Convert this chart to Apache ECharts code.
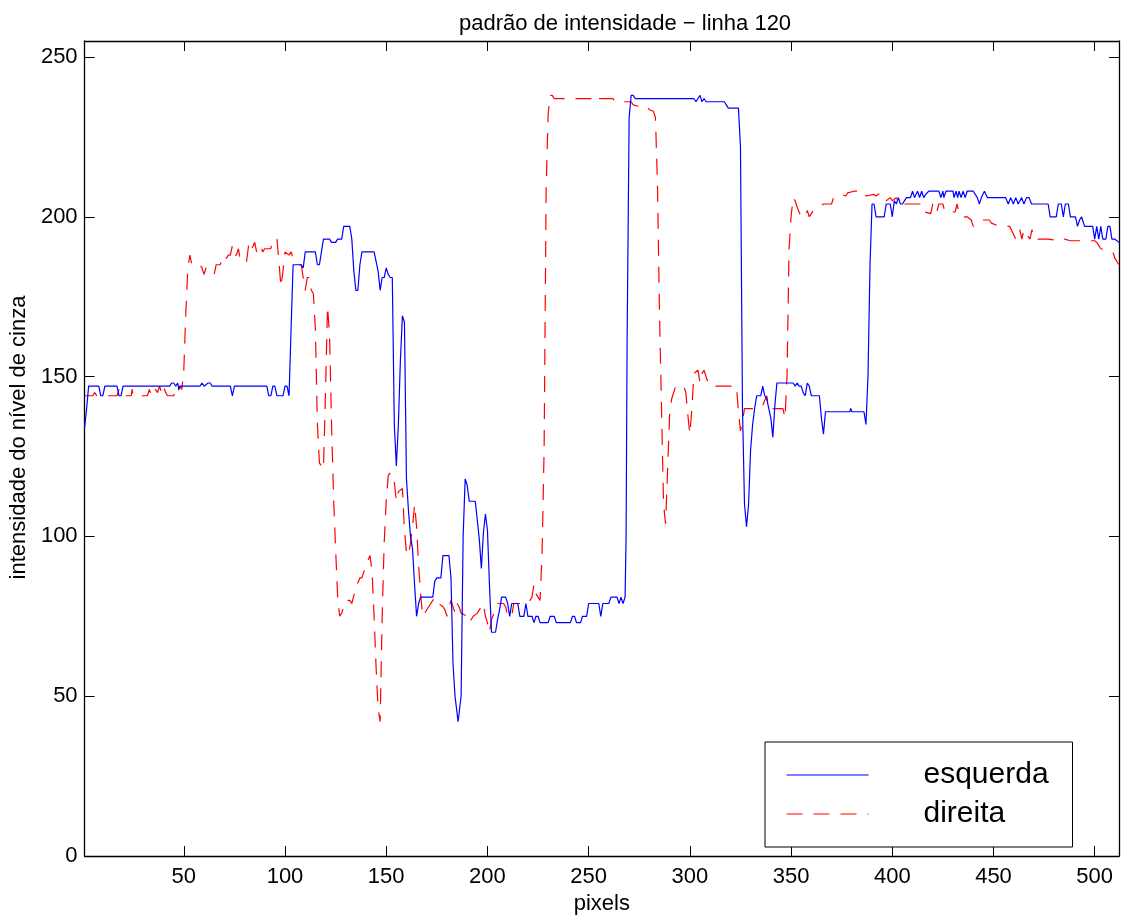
<!DOCTYPE html>
<html>
<head>
<meta charset="utf-8">
<script src="https://cdn.jsdelivr.net/npm/echarts@6/dist/echarts.min.js"></script>
<style>
html,body{margin:0;padding:0;background:#fff;}
#chart{width:1122px;height:920px;}
</style>
</head>
<body>
<div id="chart"></div>
<script>
const titleText = 'padrão de intensidade − linha 120';
const xLabel = 'pixels';
const yLabel = 'intensidade do nível de cinza';
const seriesNames = ['esquerda', 'direita'];
const xTicks = [50, 100, 150, 200, 250, 300, 350, 400, 450, 500];
const yTicks = [0, 50, 100, 150, 200, 250];

// esquerda (left image), [pixel, intensity]
const esquerda = [
[1,134],[2,140],[3,147],[8,147],[9,144],[10,144],[11,147],[17,147],[18,144],[19,144],[20,147],[43,147],[44,148],[45,148],[46,147],[47,148],[47.5,146],[48,147],
[58,147],[59,148],[60,147],[62,148],[63,148],[64,147],[73,147],[74,144],[75,147],[91,147],[92,144],[93,144],[94,147],[95,147],[96,144],[99,144],[100,147],[101,147],[102,144],
[103,165],[104,185],[108,185],[109,184],[110,189],[115,189],[116,185],[117,185],[118,189],[119,193],[122,193],[123,192],[125,192],[126,193],[128,193],[129,197],[132,197],[133,193],
[134,183],[135,177],[136,177],[137,185],[138,189],[144,189],[146,183],[147,177],[148,181],[149,181],[150,184],[151,182],[152,181],[153,181],[154,135],[155,122],[156,135],[157,155],
[158,169],[159,167],[160,118],[161,108],[162,100],[163,96],[164,85],[165,75],[166,79],[167,81],[173,81],[174,86],[175,87],[177,87],[178,94],[181,94],[182,87],[183,60],[184,50],
[185.5,42],[187,50],[188,100],[189,118],[190,116],[191,111],[194,111],[195,105],[196,99],[197,90],[198,101],[199,107],[200,102],[201,85],[202,70],[204,70],[205,74],[206,77],
[207,81],[209,81],[210,79],[211,75],[212,79],[215,79],[216,75],[218,75],[219,79],[220,75],[222,75],[223,73],[224,75],[225,75],[226,73],[230,73],[231,75],[233,75],[234,73],
[241,73],[242,75],[243,75],[244,73],[246,73],[247,75],[249,75],[250,79],[255,79],[256,75],[257,79],[260,79],[261,81],[264,81],[265,79],[266,81],[267,79],[268,81],[268.5,100],
[269,161],[270,231],[271,238],[272,238],[273,237],[302,237],[303,236],[304,237],[305,238],[306,236],[307,237],[308,236],[317,236],[318,235],[319,234],[324,234],[325,222],
[326,140],[327,110],[328,103],[329,110],[330,127],[331,135],[332,140],[333,144],[335,144],[336,147],[337,144],[338,143],[339,140],[340,137],[341,131],[342,141],[343,148],
[351,148],[352,147],[353,148],[354,147],[355,147],[356,145],[357,144],[358,148],[359,147],[360,144],[364,144],[365,137],[366,132],[367,139],[379,139],[379.5,140],[380,139],
[386,139],[387,135],[388,150],[389,185],[390,204],[391,204],[392,200],[396,200],[397,204],[399,204],[400,200],[401,205],[402,204],[403,206],[404,204],[405,204],[407,206],
[409,206],[410,208],[411,206],[412.5,208],[413.5,206],[414.5,208],[415.5,206],[416.5,207],[418,208],[423,208],[424,206],[425,208],[425.5,206],[426.5,208],[430,208],[430.5,206],
[431.5,208],[432.3,206],[433,208],[434,206],[435,208],[436,206],[437,208],[440,208],[442,206],[443,204],[444,206],[445.5,208],[447,206],[456,206],[457.3,204],[458.5,206],
[459.8,204],[461,206],[462.2,204],[463.9,206],[465,204],[466.3,206],[467.6,206],[468.8,204],[477,204],[478,200],[481,200],[482,204],[483.5,204],[484.5,200],[485.5,204],
[487,204],[488,200],[490.5,200],[491.5,197],[492.5,199],[493.5,200],[495,197],[499,197],[500,193],[501,197],[502,193],[503,197],[504,193],[505.5,193],[506.5,197],
[507.5,197],[508.5,193],[510,193],[512,192]
];

// direita (right image), [pixel, intensity]
const direita = [
[1,144],[5,144],[6,145],[7,144],[17,144],[18,146],[19,144],[24,144],[24.5,146],[25,144],[32,144],[33,146],[34,144],[35,144],[36,146],[37,145],[38,147],[39,145],[40,147],
[41,145],[42,144],[45,144],[46,146],[47,145],[48,147],[49,146],[50,152],[51,170],[52,184],[53,188],[54,185],[58,185],[59,184],[60,182],[61,184],[62,184],[64,183],[65,182],
[66,185],[68,185],[69,187],[70,188],[71,187],[72,188],[73,188],[74,191],[75,188],[76,188],[77,190],[78,186],[81,186],[82,191],[83,189],[85,192],[86,189],[88,191],[89,189],
[90,190],[93,190],[94,193],[96,193],[97,186],[98,178],[99,183],[100,189],[102,188],[103,189],[104,187],[107,185],[108,185],[109,181],[110,177],[111,181],[112,181],[113,177],
[114,176],[115,165],[116,135],[117,123],[118,122],[119,121],[120,145],[121,172],[122,163],[123,135],[124,112],[125,96],[126,81],[127,75],[128,76],[129,78],[130,80],[132,80],
[133,79],[135,84],[137,87],[138,87],[140,91],[142,94],[143,89],[144,75],[145,59],[146,46],[147,42],[148,75],[149,98],[150,111],[151,119],[152,120],[153,118],[154,117],
[155,111],[156,114],[158,115],[159,102],[160,95],[161,94],[162,98],[163,103],[164,110],[165,103],[166,91],[167,82],[168,75],[171,78],[172,79],[173,80],[174,81],[176,79],
[178,78],[179,77],[180,75],[181,78],[182,80],[184,76],[185,79],[186,78],[187,76],[190,75],[191,73],[193,75],[195,76],[198,79],[199,75],[200,73],[201,70],[202,74],[204,77],
[205,79],[208,79],[209,78],[210,75],[212,75],[213,79],[220,79],[221,80],[222,81],[223,85],[224,82],[226,80],[227,95],[228,127],[229,209],[230,232],[231,238],[232,238],
[233,237],[251,237],[252,236],[253,236],[254,237],[262,237],[263,236],[271,236],[272,235],[275,234.5],[279,234.5],[280,233.5],[282,233],[283,231],[284,210],[285,170],
[286,140],[287,110],[288,104],[289,121],[290,138],[291,143],[293,147],[297,147],[298,145],[299,138],[300,132],[301,140],[302,151],[304,152],[305,148],[306,151],[307,152],
[309,148],[311,148],[312,147],[323,147],[324,139],[325,133],[326,136],[327,140],[334,140],[336,141],[338,144],[339,140],[343,140],[346,140],[347,137],[348,150],[349,190],
[350,200],[351,206],[352,205],[353,203],[355,200],[357,200],[358,202],[359,200],[360,201],[361,202],[366,204],[370,204],[371,206],[375,207],[377,206.5],[378,207.5],[381,208],
[386,208],[387,206.5],[391,207],[392,206.5],[394,207.5],[397,205],[399,206],[400,205],[402,206],[403,204],[412,204],[415,204],[416,201.5],[419,201],[420,204],[421,204],
[422,201.5],[423,204],[425,204],[426,201.5],[431,201.5],[432,204],[433,201],[434,200],[437,200],[439,199],[440,197],[444,199],[448,199],[449,198],[453,197],[458,197],
[461,193],[463,196],[464,193],[465,196],[468,193],[469,196],[470,193],[477,193],[483,192.5],[485,193],[488,192.5],[495,192.5],[500,192.5],[501,192],[503,190],[509,189],
[510,187],[512,185]
];

const FONT = '"Liberation Sans", Arial, Helvetica, sans-serif';
const chart = echarts.init(document.getElementById('chart'), null, {renderer: 'canvas'});

const axisLineStyle = {show: true, onZero: false, lineStyle: {color: '#000', width: 1.3}};
const tickStyle = (vals) => ({show: true, inside: true, length: 10, customValues: vals, lineStyle: {color: '#000', width: 1}});

chart.setOption({
  animation: false,
  backgroundColor: '#fff',
  title: {
    text: titleText,
    left: 454, top: 8,
    textStyle: {fontFamily: FONT, fontSize: 22, fontWeight: 'normal', color: '#000'}
  },
  grid: {left: 84, right: 3, top: 41, bottom: 64, containLabel: false},
  legend: {
    left: 765, top: 742, orient: 'vertical',
    padding: [15, 19, 15, 21],
    itemWidth: 82, itemHeight: 14, itemGap: 3,
    borderColor: '#000', borderWidth: 1, backgroundColor: '#fff',
    itemStyle: {opacity: 0},
    lineStyle: {width: 1},
    textStyle: {fontFamily: FONT, fontSize: 30, color: '#000', lineHeight: 28, padding: [8, 0, 0, 50], width: 130},
    data: seriesNames
  },
  xAxis: [{
    type: 'value', min: 1, max: 512, position: 'bottom',
    name: xLabel, nameLocation: 'middle', nameGap: 37,
    nameTextStyle: {fontFamily: FONT, fontSize: 22, color: '#000'},
    axisLine: axisLineStyle,
    axisTick: tickStyle(xTicks),
    axisLabel: {customValues: xTicks, margin: 10, fontFamily: FONT, fontSize: 22, color: '#000'},
    splitLine: {show: false}
  }, {
    type: 'value', min: 1, max: 512, position: 'top',
    axisLine: axisLineStyle,
    axisTick: tickStyle(xTicks),
    axisLabel: {show: false},
    splitLine: {show: false}
  }],
  yAxis: [{
    type: 'value', min: 0, max: 255, position: 'left',
    name: yLabel, nameLocation: 'middle', nameGap: 53, nameRotate: 90,
    nameTextStyle: {fontFamily: FONT, fontSize: 22, color: '#000', padding: [0, 0, 0, 22]},
    axisLine: axisLineStyle,
    axisTick: tickStyle(yTicks),
    axisLabel: {customValues: yTicks, margin: 7, fontFamily: FONT, fontSize: 22, color: '#000'},
    splitLine: {show: false}
  }, {
    type: 'value', min: 0, max: 255, position: 'right',
    axisLine: axisLineStyle,
    axisTick: tickStyle(yTicks),
    axisLabel: {show: false},
    splitLine: {show: false}
  }],
  series: [{
    name: seriesNames[0], type: 'line', data: esquerda, xAxisIndex: 0, yAxisIndex: 0,
    symbol: 'none', smooth: false, z: 3,
    lineStyle: {color: '#0000ff', width: 1.2, type: 'solid'},
    itemStyle: {color: '#0000ff'}
  }, {
    name: seriesNames[1], type: 'line', data: direita, xAxisIndex: 0, yAxisIndex: 0,
    symbol: 'none', smooth: false, z: 2,
    lineStyle: {color: '#ff0000', width: 1.2, type: [16, 11]},
    itemStyle: {color: '#ff0000'}
  }]
});
</script>
</body>
</html>
